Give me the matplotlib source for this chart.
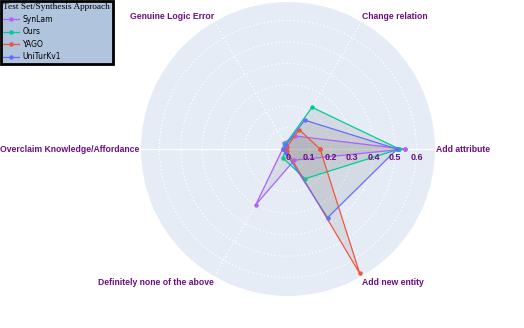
# Radar chart: error categories per test set / synthesis approach
import matplotlib.pyplot as plt
import numpy as np

categories = [
    "Add attribute",
    "Change relation",
    "Genuine Logic Error",
    "Overclaim Knowledge/Affordance",
    "Definitely none of the above",
    "Add new entity",
]
series_names = ["SynLam", "Ours", "YAGO", "UniTurKv1"]
synlam = [0.545, 0.07, 0.035, 0.025, 0.30, 0.06]
ours = [0.52, 0.225, 0.025, 0.01, 0.048, 0.16]
yago = [0.15, 0.105, 0.01, 0.01, 0.01, 0.67]
uniturk = [0.51, 0.156, 0.02, 0.025, 0.02, 0.37]
radial_ticks = [0, 0.1, 0.2, 0.3, 0.4, 0.5, 0.6]

colors = ["#ab63fa", "#00cc96", "#EF553B", "#636efa"]
label_color = "#6a0f80"

fig = plt.figure(figsize=(5.24, 3.28), dpi=100)
fig.patch.set_facecolor("white")
ax = fig.add_axes([0.269, 0.0976, 0.561, 0.896], projection="polar")
ax.set_facecolor("#e5ecf6")

angles = np.deg2rad(np.arange(len(categories)) * 60.0)
rmax = 0.686
ax.set_ylim(0, rmax)
ax.spines["polar"].set_visible(False)
ax.grid(False)
ax.set_xticks([])
ax.set_yticks([])

# grid: dotted circles and spokes, solid horizontal axis
theta_full = np.linspace(0, 2 * np.pi, 400)
for r in radial_ticks[1:]:
    ax.plot(theta_full, [r] * len(theta_full), color="white", lw=0.9, ls=(0, (1, 2)), zorder=1)
for a in angles:
    deg = round(np.rad2deg(a)) % 360
    if deg in (0, 180):
        ax.plot([a, a], [0, rmax], color="white", lw=1.0, zorder=1)
    else:
        ax.plot([a, a], [0, rmax], color="white", lw=0.9, ls=(0, (1, 2)), zorder=1)

# radial tick labels, a bit below the axis line
offset = plt.matplotlib.transforms.ScaledTranslation(0, -3 / 72, fig.dpi_scale_trans)
for v in radial_ticks:
    ax.text(0, v, f"{v:g}", transform=ax.transData + offset, ha="center", va="top",
            fontsize=6.5, fontweight="bold", color=label_color,
            fontfamily="Liberation Sans", zorder=6)

closed = np.append(angles, angles[0])
for name, vals, col in zip(series_names, [synlam, ours, yago, uniturk], colors):
    v = np.append(vals, vals[0])
    ax.fill(closed, v, color="#808080", alpha=0.15, lw=0, zorder=2)
    ax.plot(closed, v, color=col, lw=0.9, marker="o", markersize=2.2, label=name, zorder=3)

# category labels outside the circle
for a, cat in zip(angles, categories):
    deg = round(np.rad2deg(a)) % 360
    ha = "left" if deg in (0, 60, 300) else "right"
    va = "center"
    if deg in (60, 120):
        va = "bottom"
    elif deg in (240, 300):
        va = "top"
    ax.text(a, rmax * 1.01, cat, ha=ha, va=va, fontsize=6.2, fontweight="bold",
            color=label_color, fontfamily="Liberation Sans", zorder=6)

leg = fig.legend(loc="upper left", bbox_to_anchor=(0.0, 1.0), title="Test Set/Synthesis Approach",
                 fontsize=5.5, frameon=True, fancybox=False, borderpad=0.35,
                 labelspacing=0.45, handlelength=2.0, handletextpad=0.5, borderaxespad=0.1)
leg.get_frame().set_facecolor("#b0c4de")
leg.get_frame().set_edgecolor("black")
leg.get_frame().set_linewidth(2)
leg.get_frame().set_alpha(1)
leg.get_title().set_fontfamily("Liberation Serif")
leg.get_title().set_fontsize(6.7)
leg._legend_box.align = "left"

fig.savefig("out.png", dpi=100, facecolor="white")
